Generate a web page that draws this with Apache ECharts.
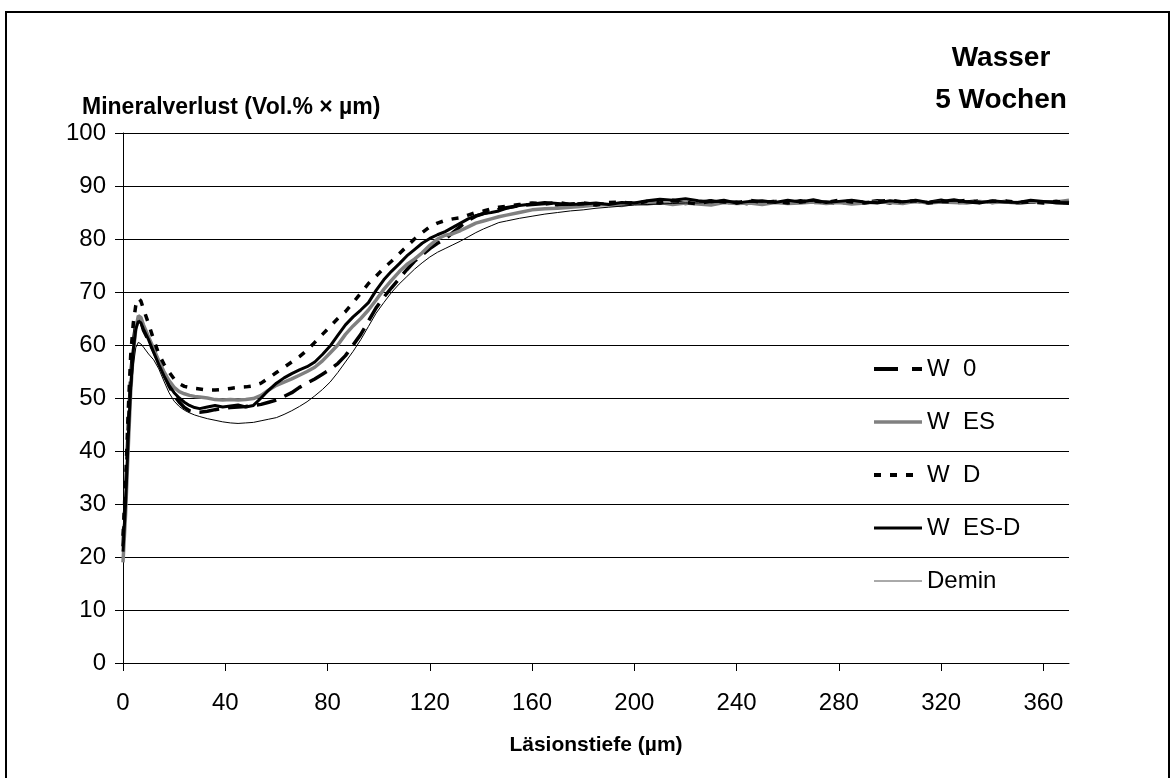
<!DOCTYPE html>
<html>
<head>
<meta charset="utf-8">
<script src="https://cdn.jsdelivr.net/npm/echarts@6/dist/echarts.min.js"></script>
<style>
html,body{margin:0;padding:0;background:#fff;}
#chart{width:1171px;height:778px;}
</style>
</head>
<body>
<div id="chart"></div>
<script>
// Läsionstiefe (µm)
const depth = [
  0,1,2,3,4,5,6,7,8,10,
  12,14,16,18,20,22,24,26,28,30,
  33,36,39,42,45,48,51,54,57,60,
  63,66,69,72,75,78,81,84,87,90,
  93,96,99,102,105,108,111,114,117,120,
  123,126,129,132,135,138,141,144,147,150,
  155,160,165,170,175,180,185,190,195,200,
  205,210,215,220,225,230,235,240,245,250,
  255,260,265,270,275,280,285,290,295,300,
  305,310,315,320,325,330,335,340,345,350,
  355,360,365,370
];
const w0 = [
  22,32,44,54,60.5,64,65.2,64.5,62.8,60.8,
  58.8,56.8,54.5,52.3,50.5,49.2,48.2,47.6,47.3,47.3,
  47.5,47.8,48,48.2,48.3,48.4,48.6,48.8,49.2,49.6,
  50.3,51,52,52.8,53.6,54.5,55.4,56.5,58,60,
  62,64.5,67,69,70.8,72.5,74.2,75.8,77,78.2,
  79.2,80,81.2,82.4,83.5,84.3,84.8,85.2,85.6,85.9,
  86.3,86.5,86.7,86.4,86.6,86.8,86.5,86.7,86.6,86.9,
  87.0,86.8,87.1,86.7,86.9,87.2,86.8,87.0,86.6,86.9,
  87.1,86.8,87.2,86.9,87.0,86.7,87.1,86.9,87.2,86.8,
  87.0,87.1,86.9,87.3,86.8,87.0,87.2,86.9,87.1,86.8,
  87.0,86.9,87.1,86.8
];
const wES = [
  19,28,40,51,58.5,63,65.5,65.2,63.8,61.5,
  59.3,57,55,53.3,52,51.2,50.8,50.5,50.3,50.2,
  50,49.7,49.6,49.7,49.6,49.7,49.9,50.5,51.5,52.4,
  53,53.6,54.3,55,55.8,57,58.5,60,62,63.6,
  65,66.6,68.5,70.5,72.2,73.8,75.2,76.2,77.4,78.8,
  80,80.7,81,81.6,82.3,83,83.4,83.8,84.2,84.5,
  85,85.5,85.7,85.8,86,86.2,86.4,86.5,86.3,86.8,
  86.6,86.9,86.5,86.8,86.6,86.4,86.9,86.7,86.8,86.5,
  86.9,86.7,86.8,87.0,86.7,86.9,86.6,86.8,87.0,86.9,
  86.7,87.1,86.8,87.0,86.9,86.8,87.1,86.9,87.0,86.8,
  87.1,86.9,87.0,87.3
];
const wD = [
  24,34,47,58,64,67.5,68.8,68.3,66.8,64,
  61,58.3,56.4,54.9,53.6,52.7,52.2,52,51.8,51.7,
  51.5,51.5,51.6,51.8,52,52.1,52.3,52.8,53.8,54.8,
  55.8,56.8,57.8,59,60.5,62,63.5,65,66.3,68,
  69.8,71.6,73,74.5,75.8,77.2,78.6,80,81.2,82.3,
  83,83.5,83.8,84,84.5,85,85.3,85.7,86,86.2,
  86.5,86.8,86.6,86.9,86.5,86.7,86.4,86.9,87.0,86.6,
  87.1,86.8,87.3,86.9,86.6,87.2,87.0,86.8,87.3,86.9,
  87.1,86.8,87.0,87.2,86.9,87.3,87.0,86.8,87.1,87.3,
  87.0,87.2,86.8,87.1,87.0,87.3,86.9,87.1,87.2,86.9,
  87.0,86.8,87.1,86.9
];
const wESD = [
  21,30,42,52,59,63,64.5,64.2,63,61,
  58.6,56.3,54.2,52.4,51,50,49.2,48.6,48.2,48,
  48.3,48.6,48.3,48.5,48.7,48.3,48.6,50,51.5,52.8,
  53.8,54.6,55.3,55.9,56.8,58.2,59.8,61.8,63.8,65.3,
  66.6,68,70.3,72.3,73.9,75.3,76.8,78,79.2,80.1,
  80.8,81.4,82.2,83,83.8,84.4,84.8,85,85.3,85.8,
  86.3,86.6,86.9,86.7,86.5,86.6,86.8,86.5,86.9,86.8,
  87.2,87.5,87.3,87.6,87.2,87.0,87.3,86.8,87.1,87.2,
  86.9,87.3,87.0,87.4,86.9,87.1,87.3,87.0,86.8,87.2,
  87.0,87.3,86.9,87.1,87.4,87.0,86.8,87.2,87.0,86.9,
  87.3,87.1,86.8,86.7
];
const demin = [
  25,33,42,50,56,59.5,60.5,60.2,59.6,58.3,
  57.2,55.5,53.2,51,49.4,48.4,47.7,47.2,46.8,46.5,
  46.1,45.8,45.5,45.3,45.2,45.3,45.4,45.7,46,46.3,
  46.9,47.6,48.4,49.3,50.4,51.6,53,54.8,56.8,58.8,
  61,63.5,66,68,69.9,71.5,72.9,74.3,75.5,76.6,
  77.5,78.2,78.9,79.6,80.4,81.2,81.9,82.5,83.1,83.4,
  83.9,84.3,84.7,85,85.3,85.5,85.8,86,86.2,86.4,
  86.5,86.6,86.7,86.8,86.8,86.9,86.9,87.0,86.9,87.0,
  87.0,87.1,87.0,87.1,87.0,87.1,87.1,87.0,87.1,87.1,
  87.0,87.1,87.1,87.0,87.1,87.2,87.1,87.1,87.0,87.1,
  87.1,87.2,87.1,87.1
];
const seriesNames = ['W  0', 'W  ES', 'W  D', 'W  ES-D', 'Demin'];
const xTicks = [0,40,80,120,160,200,240,280,320,360];

const zip = (ys) => depth.map((x, i) => [x, ys[i]]);
const FONT = '"Liberation Sans", Arial, sans-serif';

const styles = [
  {color: '#000', width: 3.5, type: [20, 9]},
  {color: '#808080', width: 3.5, type: 'solid'},
  {color: '#000', width: 3.5, type: [7, 9]},
  {color: '#000', width: 3, type: 'solid'},
  {color: '#000', width: 1, type: 'solid'}
];
const legendStyles = [
  {color: '#000', width: 4, type: [24, 14]},
  {color: '#808080', width: 3.5, type: 'solid'},
  {color: '#000', width: 4, type: [7, 9]},
  {color: '#000', width: 3, type: 'solid'},
  {color: '#555', width: 1, type: 'solid'}
];

const chart = echarts.init(document.getElementById('chart'), null, {renderer: 'canvas'});
chart.setOption({
  animation: false,
  backgroundColor: '#ffffff',
  grid: {left: 123, right: 102, top: 133, bottom: 115, containLabel: false},
  graphic: [
    {type: 'rect', shape: {x: 6, y: 12, width: 1163, height: 780},
     style: {fill: 'none', stroke: '#000', lineWidth: 2}, silent: true},
    {type: 'text', x: 1001, y: 44,
     style: {text: 'Wasser', font: 'bold 28px ' + FONT, fill: '#000', textAlign: 'center'}},
    {type: 'text', x: 1001, y: 86,
     style: {text: '5 Wochen', font: 'bold 28px ' + FONT, fill: '#000', textAlign: 'center'}},
    {type: 'text', left: 82, top: 96,
     style: {text: 'Mineralverlust (Vol.% × µm)', font: 'bold 23px ' + FONT, fill: '#000'}}
  ],
  xAxis: {
    type: 'value', min: 0, max: 370, interval: 40,
    name: 'Läsionstiefe (µm)', nameLocation: 'middle', nameGap: 72,
    nameTextStyle: {fontFamily: FONT, fontWeight: 'bold', fontSize: 21, color: '#000'},
    axisLine: {show: true, lineStyle: {color: '#000', width: 1}},
    axisTick: {show: true, inside: false, length: 8, customValues: xTicks, lineStyle: {color: '#000'}},
    axisLabel: {customValues: xTicks, margin: 28, fontFamily: FONT, fontSize: 24, color: '#000'},
    splitLine: {show: false}
  },
  yAxis: {
    type: 'value', min: 0, max: 100, interval: 10,
    axisLine: {show: true, lineStyle: {color: '#000', width: 1}},
    axisTick: {show: true, inside: false, length: 8, lineStyle: {color: '#000'}},
    axisLabel: {margin: 17, fontFamily: FONT, fontSize: 24, color: '#000'},
    splitLine: {show: true, lineStyle: {color: '#000', width: 1}}
  },
  legend: {
    orient: 'vertical', left: 867, top: 352,
    itemWidth: 48, itemHeight: 14, itemGap: 29,
    itemStyle: {opacity: 0},
    textStyle: {fontFamily: FONT, fontSize: 24, color: '#000'},
    data: seriesNames.map((n, i) => ({name: n, lineStyle: legendStyles[i], itemStyle: {opacity: 0}}))
  },
  series: seriesNames.map((n, i) => ({
    name: n, type: 'line', symbol: 'none',
    data: zip([w0, wES, wD, wESD, demin][i]),
    lineStyle: styles[i], itemStyle: {color: styles[i].color}
  }))
});
</script>
</body>
</html>
